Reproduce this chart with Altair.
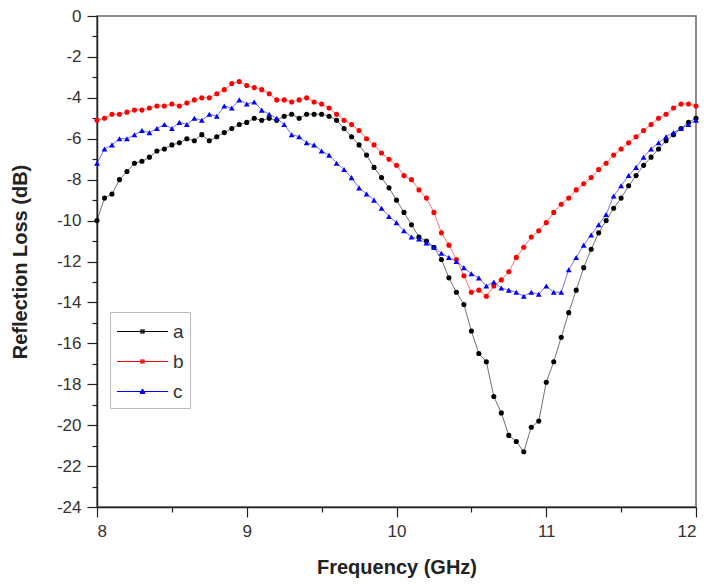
import altair as alt
import pandas as pd

freq = [round(8 + 0.05 * i, 2) for i in range(81)]

series_a = [-10.0, -8.9, -8.7, -8.0, -7.6, -7.2, -7.1, -6.9, -6.6, -6.5,
            -6.3, -6.2, -6.0, -6.1, -5.8, -6.1, -5.9, -5.7, -5.5, -5.3,
            -5.2, -5.0, -5.1, -5.0, -5.1, -4.9, -4.8, -5.0, -4.8, -4.8,
            -4.8, -4.9, -5.1, -5.5, -5.9, -6.3, -6.8, -7.4, -7.9, -8.4,
            -9.0, -9.6, -10.2, -10.8, -11.0, -11.3, -11.9, -12.8, -13.5, -14.1,
            -15.4, -16.5, -16.9, -18.6, -19.4, -20.5, -20.8, -21.3, -20.1, -19.8,
            -17.9, -16.9, -15.7, -14.5, -13.4, -12.3, -11.4, -10.6, -10.0, -9.4,
            -8.9, -8.3, -7.8, -7.3, -6.9, -6.5, -6.1, -5.8, -5.5, -5.2,
            -5.0]

series_b = [-5.1, -5.0, -4.8, -4.8, -4.7, -4.6, -4.6, -4.5, -4.4, -4.4,
            -4.3, -4.4, -4.25, -4.1, -4.0, -4.0, -3.8, -3.6, -3.3, -3.2,
            -3.4, -3.5, -3.6, -3.8, -4.1, -4.1, -4.2, -4.1, -4.0, -4.2,
            -4.3, -4.5, -4.8, -5.1, -5.3, -5.6, -6.0, -6.3, -6.7, -7.0,
            -7.3, -7.8, -8.0, -8.5, -8.9, -9.6, -10.6, -11.2, -11.9, -12.7,
            -13.5, -13.4, -13.7, -13.2, -12.9, -12.5, -11.8, -11.3, -10.8, -10.5,
            -10.1, -9.6, -9.2, -8.9, -8.5, -8.2, -7.9, -7.5, -7.2, -6.8,
            -6.5, -6.2, -5.9, -5.6, -5.3, -5.0, -4.8, -4.5, -4.3, -4.3,
            -4.4]

series_c = [-7.2, -6.5, -6.3, -6.0, -6.0, -5.8, -5.6, -5.7, -5.5, -5.3,
            -5.5, -5.2, -5.3, -5.0, -5.1, -4.8, -4.9, -4.4, -4.5, -4.1,
            -4.3, -4.2, -4.6, -4.8, -5.0, -5.3, -5.8, -5.9, -6.2, -6.3,
            -6.6, -6.8, -7.2, -7.5, -7.9, -8.4, -8.7, -9.0, -9.4, -9.8,
            -10.1, -10.5, -10.8, -10.9, -11.1, -11.3, -11.6, -11.8, -12.0, -12.3,
            -12.6, -12.8, -13.2, -13.0, -13.3, -13.4, -13.5, -13.7, -13.5, -13.6,
            -13.2, -13.5, -13.5, -12.4, -11.8, -11.2, -10.7, -10.2, -9.7, -8.8,
            -8.3, -7.8, -7.4, -6.9, -6.5, -6.2, -5.9, -5.7, -5.5, -5.3,
            -5.1]

labels = ["a", "b", "c"]
colors = ["#000000", "#ff0000", "#0000ff"]

# legend glyphs: a thin line with a small marker drawn by strokes
dot_sym = ("M-2,0H2M-0.15,-0.12H0.15M-0.15,-0.04H0.15M-0.15,0.04H0.15"
           "M-0.15,0.12H0.15M-0.12,-0.15V0.15M0.12,-0.15V0.15")
tri_sym = "M-2,0H2M-0.2,0.15L0,-0.2L0.2,0.15ZM-0.1,0.08H0.1M-0.05,0H0.05"
legend_shapes = [dot_sym, dot_sym, tri_sym]

rows = []
for name, vals in zip(labels, [series_a, series_b, series_c]):
    for f, v in zip(freq, vals):
        rows.append({"freq": f, "rl": v, "series": name})
df = pd.DataFrame(rows)

x_vals = [8 + 0.5 * i for i in range(9)]
y_vals = list(range(-24, 1))

x_scale = alt.Scale(domain=[8, 12], nice=False, zero=False)
y_scale = alt.Scale(domain=[-24, 0], nice=False, zero=False)

x_axis = alt.Axis(
    title="Frequency (GHz)", values=x_vals,
    labelExpr="datum.value % 1 === 0 ? '' + datum.value : ''",
    tickSize={"condition": {"test": "datum.value % 1 === 0", "value": 10}, "value": 5},
    grid=False, titlePadding=18, labelPadding=6,
)
y_axis = alt.Axis(
    title="Reflection Loss (dB)", values=y_vals,
    labelExpr="datum.value % 2 === 0 ? '' + datum.value : ''",
    tickSize={"condition": {"test": "datum.value % 2 === 0", "value": 10}, "value": 5},
    grid=False, titlePadding=26, labelPadding=6,
)

base = alt.Chart(df).encode(
    x=alt.X("freq:Q", scale=x_scale, axis=x_axis),
    y=alt.Y("rl:Q", scale=y_scale, axis=y_axis),
)

col_scale = alt.Scale(domain=labels, range=colors)

legend_opts = dict(
    title=None, orient="none", legendX=13, legendY=296,
    symbolSize=650, symbolStrokeWidth=1, labelFontSize=19,
    labelFont="Liberation Sans", labelColor="#333",
    fillColor="white", strokeColor="#bbbbbb", padding=6,
    rowPadding=6, labelOffset=17, symbolOffset=13, symbolOpacity=1,
)

legend_layer = base.transform_filter("datum.rl > 100").mark_point(
    filled=False, opacity=1, strokeWidth=1
).encode(
    color=alt.Color("series:N", scale=col_scale, legend=alt.Legend(**legend_opts)),
    shape=alt.Shape("series:N", scale=alt.Scale(domain=labels, range=legend_shapes),
                    legend=alt.Legend(**legend_opts)),
)

lines = base.mark_line(strokeWidth=0.8, opacity=0.7).encode(
    color=alt.Color("series:N", scale=col_scale)
)
dots = base.transform_filter("datum.series !== 'c'").mark_point(
    filled=True, size=26, opacity=1, shape="circle"
).encode(color=alt.Color("series:N", scale=col_scale))
tris = base.transform_filter("datum.series === 'c'").mark_point(
    filled=True, size=34, opacity=1, shape="triangle-up"
).encode(color=alt.Color("series:N", scale=col_scale))

chart = alt.layer(legend_layer, lines, dots, tris).properties(
    width=599, height=491,
    autosize=alt.AutoSizeParams(type="none"),
    padding={"left": 89, "top": 8, "right": 8, "bottom": 78},
).configure_view(
    stroke="#666666", strokeWidth=1.5,
).configure_axis(
    labelFont="Liberation Sans", labelFontSize=17, labelColor="#333333",
    titleFont="Liberation Sans", titleFontSize=20, titleFontWeight="bold", titleColor="#222222",
    domainColor="#222222", domainWidth=1.5, tickColor="#222222", tickWidth=1.2,
)

chart.save("out.html", embed_options={"renderer": "svg", "actions": False})
